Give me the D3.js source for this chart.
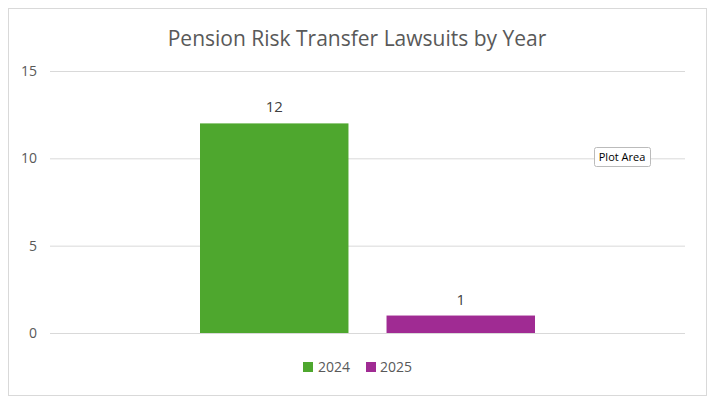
<!DOCTYPE html>
<html><head><meta charset="utf-8">
<script src="https://cdn.jsdelivr.net/npm/d3@7"></script>
<style>body{margin:0;background:#fff}svg{font-family:"Open Sans",Arial,sans-serif}</style>
</head><body><svg id="c" width="715" height="404"></svg>
<script>
const series = ["2024","2025"];
const values = [12,1];
const colors = ["#4EA72E","#A02B93"];
const yTicks = [0,5,10,15];
const title = "Pension Risk Transfer Lawsuits by Year";

const svg = d3.select("#c");
svg.append("rect").attr("x",8.5).attr("y",8.5).attr("width",698).attr("height",387).attr("fill","#fff").attr("stroke","#d9d9d9");
svg.append("text").attr("x",357).attr("y",46).attr("text-anchor","middle").attr("font-size",21).attr("fill","#595959").text(title);

const y = d3.scaleLinear().domain([0,15]).range([333,71]);
const x = d3.scaleBand().domain(series).range([200,535]).paddingInner(0.204).paddingOuter(0);
const L=50,R=685;
svg.selectAll(".g").data(yTicks).join("line").attr("x1",L).attr("x2",R)
  .attr("y1",d=>y(d)+0.5).attr("y2",d=>y(d)+0.5).attr("stroke","#d9d9d9");
svg.selectAll(".yt").data(yTicks).join("text").attr("x",37).attr("y",d=>y(d)+5)
  .attr("text-anchor","end").attr("font-size",14).attr("fill","#595959").text(d=>d);
svg.selectAll(".b").data(values).join("rect").attr("x",(d,i)=>x(series[i])).attr("width",x.bandwidth())
  .attr("y",d=>y(d)).attr("height",d=>y(0)-y(d)).attr("fill",(d,i)=>colors[i]);
svg.selectAll(".l").data(values).join("text").attr("x",(d,i)=>x(series[i])+x.bandwidth()/2)
  .attr("y",d=>y(d)-11).attr("text-anchor","middle").attr("font-size",15).attr("fill","#404040").text(d=>d);
const lg=[[303,318],[366,380]];
series.forEach((s,i)=>{
  svg.append("rect").attr("x",lg[i][0]).attr("y",362).attr("width",10).attr("height",10).attr("fill",colors[i]);
  svg.append("text").attr("x",lg[i][1]).attr("y",372).attr("font-size",14).attr("fill","#595959").text(s);
});
svg.append("rect").attr("x",594.5).attr("y",147.5).attr("width",56).attr("height",19).attr("rx",2).attr("fill","#fff").attr("stroke","#bbb");
svg.append("text").attr("x",622).attr("y",161).attr("text-anchor","middle").attr("font-size",11).attr("fill","#000").text("Plot Area");
</script></body></html>
